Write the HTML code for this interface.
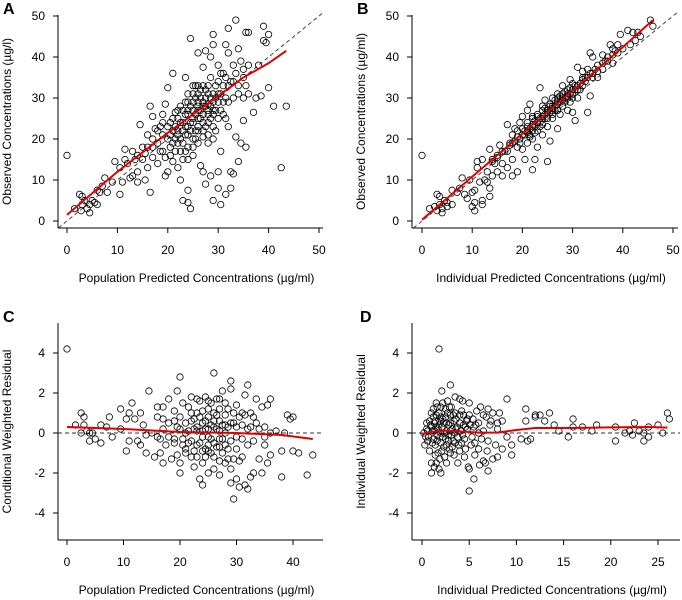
<!DOCTYPE html>
<html><head><meta charset="utf-8"><style>
html,body{margin:0;padding:0;background:#fff;}
svg{display:block;font-family:"Liberation Sans",Arial,sans-serif;}
</style></head><body>
<svg id="chart" width="682" height="600" viewBox="0 0 682 600" xmlns="http://www.w3.org/2000/svg"></svg>
<script>
// ---- Data ----
const aPoints=[[0,16],[1.5,3],[2.5,6.5],[3,6],[3,4],[2.8,2.5],[3.5,5],[4,3],[4.5,2],[4.5,4],[5,5],[5.5,4.5],[6,4],[6,7.5],[6.5,7],[7,8.5],[7.5,10.5],[8,7],[9,9.5],[9.5,14.5],[10.5,6.5],[10.5,13],[11,9.5],[11.5,15],[11.5,17.5],[12,14],[12.5,10.5],[13,17],[13,11],[13.5,15],[14,12],[14,9.5],[14.5,23.5],[15,18],[15.5,10],[15.5,16.5],[16,21],[16,13],[16.5,7],[16.5,28],[17,20],[17,25.5],[17,15.5],[17.5,22.5],[18,19],[18,14],[18.5,23],[19,26],[19,17],[19.5,11],[19.5,15.5],[19.5,28.5],[20,32.5],[20,20],[20,12],[20.5,24],[20.5,18],[21,36],[21,22],[21,14.5],[21.5,26.5],[21.5,20],[22,25],[22,19],[22,13],[22.5,10],[22.5,28],[23,22],[23,15],[23,5],[23.5,35],[23.5,26],[23.5,21],[24,7.5],[24,4.5],[24,18],[24,29],[24.5,3],[24.5,44.5],[24.5,24],[25,31],[25,27],[25,20],[25,16],[25.5,33],[25.5,22],[26,29],[26,25],[26,41],[26,28],[26.5,13.5],[26.5,30],[27,37.5],[27,12],[27,20.5],[27,26],[27.5,41.5],[27.5,9],[27.5,32],[28,24],[28,28.5],[28,19],[28.5,11],[28.5,40],[28.5,30],[29,45.5],[29,43],[29,5],[29,26],[29.5,33],[29.5,22],[30,38],[30,12],[30,8],[30,31],[30.5,4],[30.5,27],[30.5,17],[31,36],[31,29],[31.5,43],[31.5,6.5],[31.5,25],[32,47],[32,41],[32,23],[32.5,34],[32.5,12],[32.5,8],[33,38],[33,11.5],[33,30],[33.5,49],[33.5,20.5],[34,42],[34,14.5],[34,31],[34.5,39],[34.5,19],[35,24.5],[35,35],[35,30],[35.5,18],[35.5,46],[35.5,33],[36,38],[36,46],[36,31],[37,26.5],[37.5,30],[38,38],[38.5,30.5],[39,47.5],[39,44],[39.5,43.5],[40,32.5],[40,45.5],[41,28],[42.5,13],[43.5,28],[24,27],[25,25],[26,27],[27,28],[28,27],[29,29],[24,23],[26,22],[22,22],[23,24],
[20,23],[20.5,21],[21,25],[21,19],[21.5,23],[22,21],[22,27],[22.5,24],[22.5,20],[23,27],[23,19],[23.5,23],[23.5,29],[24,26],[24,21],[24,31],[24.5,28],[24.5,22],[25,29],[25,24],[25,33],[25.5,26],[25.5,30],[25.5,20],[26,31],[26,23],[26,33],[26.5,27],[26.5,25],[26.5,32],[27,29],[27,33],[27,24],[27.5,28],[27.5,30],[27.5,23],[28,31],[28,26],[28,33],[28.5,28],[28.5,25],[28.5,35],[29,31],[29,27],[29,23],[29.5,30],[29.5,27],[30,29],[30,25],[30,34],[30.5,31],[30.5,36],[31,26],[31,33],[31.5,30],[31.5,35],[32,29],[32,33],[33,34],[33.5,36],[34,33],[35,37],[19,21],[19,24],[18,22],[17,18],[18.5,17],[16,18],[15,15],[14,16],[20.5,16],[21.5,17],[22.5,17],[23.5,17],[26,19],[27,22],[28,21],[29,20],[25,18],[24,15]];
const aTrend=[[0,1.5],[10,12],[20,21.5],[25,26],[30,30.5],[35,35],[40,38.5],[43.5,41.5]];
const bPoints=[[0,16],[1.5,3],[2.5,3.5],[3,6.5],[3,2.5],[3.5,6],[3.5,4],[4,2],[4,3],[4.5,5],[5,4.5],[5,3.5],[6,7.5],[6,4],[7,7],[7.5,8],[8,10.5],[8.5,6.5],[9,5.5],[9.5,10],[10,7],[10,3.5],[10.5,4.5],[10.5,2.5],[10.5,7.5],[11,13],[11,14.5],[11.5,9.5],[12,15],[12,5],[12,4],[12.5,10],[13,9.5],[13,12],[13.5,6],[13.5,8],[13.5,17.5],[14,15],[14,11],[14.5,14],[15,16],[15,12],[15.5,18.5],[16,14],[16,11],[16.5,17],[17,23.5],[17,13],[17.5,19],[18,15],[18,21],[18,11],[18.5,22.5],[19,18],[19,12],[19.5,20],[19.5,24],[20,17.5],[20,25.5],[20.5,21],[20.5,15],[21,27],[21,23],[21,19],[21.5,28.5],[21.5,21],[22,12.5],[22,25],[22,20],[22.5,23],[22.5,15],[23,26],[23,22],[23,18],[23.5,32.5],[23.5,24],[24,21],[24,27],[24.5,25],[24.5,29.5],[25,14.5],[25,23],[25,26.5],[25.5,19.5],[25.5,28],[26,25],[26,30],[26.5,27],[27,22.5],[27,29],[27,31],[27.5,26],[28,33],[28,28],[28.5,30],[29,27],[29,32],[29.5,34.5],[29.5,29],[30,31],[30,26.5],[30.5,24.5],[30.5,33],[31,30],[31,37.5],[31.5,32],[32,35],[32,36.5],[32.5,34],[33,26.5],[33,37],[33.5,41],[33.5,30.5],[34,40],[34,36],[35,38],[35,35],[36,37],[36,40.5],[37,39],[37.5,43],[38,42],[38,38.5],[38.5,41.5],[39,43],[39.5,45.5],[40,42],[41,46.5],[41.5,43],[42,46],[42.5,44],[43,46],[43.5,45],[45.5,49],[46,47.5],[20,21],[21,22],[22,23],[24,25],[26,28],[27,27],[28,30],[29,30],[30,32],[25,27],[23,24],[26,27],
[17,17],[17.5,18.5],[18,19],[18.5,19.5],[19,20.5],[19.5,19],[20,21],[20,22.5],[20.5,22],[21,21.5],[21,24],[21.5,22.5],[21.5,20.5],[22,23.5],[22,22],[22.5,24.5],[22.5,21.5],[23,24],[23,25.5],[23.5,25],[23.5,23],[24,25.5],[24,23.5],[24.5,26],[24.5,27.5],[25,27],[25,25],[25.5,26.5],[25.5,28.5],[26,27.5],[26,26],[26.5,28],[26.5,29.5],[27,28.5],[27,27],[27.5,29],[27.5,30.5],[28,29.5],[28,31],[28.5,29],[28.5,31.5],[29,30.5],[29,31],[29.5,31],[29.5,32.5],[30,30],[30,33.5],[30.5,32],[31,33],[31,32],[31.5,33.5],[32,33],[32,34.5],[32.5,35],[33,35],[33.5,36],[34,35],[34.5,37],[35,36.5],[36,38.5],[36.5,39],[37,40],[38,40.5],[39,41],[16,17],[15,15.5],[14,14.5],[19,22],[22,25.5],[24,28],[27,30]];
const bTrend=[[0,0.3],[10,10.8],[20,21.3],[30,31.8],[40,42.4],[46,49]];
const cPoints=[[0,4.2],[1.5,0.4],[2.5,1],[2.5,0],[3,0.8],[3,0.4],[3.5,0.1],[4,-0.4],[4,0],[4.5,0],[5,-0.3],[6,0.4],[6,-0.5],[7,0.3],[7.5,0.8],[8,-0.2],[9.5,0.2],[9.5,1.2],[10.5,0.7],[10.5,-0.9],[11,1],[11,-0.4],[11.5,1.5],[12,0.7],[12.5,-0.4],[13,1],[13,-0.6],[13.5,0.4],[14,-1],[14,-0.1],[14.5,2.1],[15,0],[15.5,-1.2],[16,0.8],[16,1.3],[16.5,-1],[16.5,-0.3],[17,1.3],[17,-1.5],[17,0.2],[17.5,-0.6],[18,1.7],[18,0.5],[18.5,-1.3],[19,1.1],[19,-0.5],[19.5,2.1],[19.5,-1.1],[19.5,0.3],[20,2.8],[20,-2],[20,-1.5],[20,0.8],[20.5,-0.3],[20.5,1.5],[21,0],[21,-0.8],[21.5,1.3],[21.5,-0.5],[22,0.6],[22,1.8],[22,-1.2],[22.5,0.2],[22.5,-1.7],[23,1],[23,-0.6],[23.5,1.6],[23.5,-2.3],[24,0.1],[24,-1.5],[24,-2.6],[24.5,1.8],[24.5,-0.8],[24.5,0.6],[25,-2],[25,1.2],[25,-0.2],[25.5,0.4],[25.5,-1],[26,3],[26,1],[26,-0.5],[26.5,0.2],[26.5,1.7],[27,-1.4],[27,-2.1],[27,0.6],[27.5,2.1],[27.5,-0.3],[28,1.5],[28,-1.5],[28,0.9],[28.5,0.3],[28.5,-0.8],[29,2.6],[29,2.2],[29,-2.5],[29.5,-3.3],[29.5,-1.3],[29.5,0.5],[30,1.4],[30,-0.2],[30,-2.3],[30.5,-2.7],[30.5,0.8],[31,1],[31,-1.2],[31.5,1.9],[31.5,-2.6],[32,2.4],[32,-2.8],[32,0.2],[32.5,-2.2],[32.5,1],[33,-0.4],[33,-2],[33.5,1.7],[33.5,0.5],[34,-1.3],[34.5,1.3],[34.5,-2],[35,0.3],[35,-0.6],[35.5,-1.5],[35.5,1.4],[36,0],[36,1.7],[36,-1.1],[37,0.1],[38,-0.9],[38,-2.2],[38.5,0],[39,0.9],[39.5,0.7],[40,0.8],[40,-0.9],[41,-1],[42.5,-2.1],[43.5,-1.1],[23,0.3],[24,0.5],[25,0.2],[26,0.6],[27,0.1],[28,0.4],[25,-0.6],[27,-0.7],[24,-0.9],
[20,0.2],[20.5,-0.6],[21,0.5],[21,-1],[21.5,0.1],[22,-0.4],[22,1],[22.5,0.7],[22.5,-0.9],[23,0.1],[23,-1.2],[23.5,0.8],[23.5,-0.5],[24,1.1],[24,-0.2],[24.5,-1.2],[24.5,0.2],[25,0.8],[25,-0.9],[25.5,1.5],[25.5,-0.3],[26,0.3],[26,-1.2],[26.5,-0.7],[26.5,0.9],[27,1.2],[27,-0.3],[27.5,0.4],[27.5,-1],[28,0],[28,-0.6],[28.5,1.2],[28.5,-1.3],[29,0.5],[29,-0.4],[29.5,1],[30,0.3],[30,-0.8],[30.5,-1.4],[31,0.4],[31,-0.3],[31.5,0.9],[32,-0.6],[32.5,0.3],[33,0.8],[34,0.2],[35,-0.2],[19,0.6],[18,-0.2],[17,0.7],[16,-0.2],[19,-0.3],[23,1.7],[25,1.6],[27,1.7],[29,-1.8],[26,-1.8]];
const cTrend=[[0,0.3],[10,0.2],[20,0.05],[30,0],[38,-0.1],[43.5,-0.3]];
const dPoints=[[1.8,4.2],[3,2.4],[2.1,2.1],[3.5,1.8],[4,1.7],[4.3,1.6],[1.5,1.5],[2.7,1.6],[5,1.5],[0.5,0.5],[0.3,-0.6],[0.8,-0.9],[1,-1.5],[1,-2],[1.3,-1.7],[1.5,-1.5],[1.8,-1.8],[2,-2],[1.2,0.8],[1.5,0.3],[1.8,1],[2,0],[2,-0.5],[2.2,0.7],[2.5,1.2],[2.5,-0.3],[2.8,0.4],[3,-1],[3,0.9],[3.2,0.2],[3.5,-0.5],[3.5,1],[3.8,-1.5],[4,0.5],[4,-0.9],[4.2,1.1],[4.5,-0.3],[4.5,-1.2],[4.8,0.2],[5,-1.8],[5,0.9],[5,-2.9],[5.2,-0.6],[5.5,-2.3],[5.5,0.3],[5.8,1.1],[6,-0.8],[6,0.5],[6.2,1.3],[6.5,-1.4],[6.5,0.1],[6.8,0.8],[7,-1.9],[7,-0.4],[7,1.2],[7.2,0.4],[7.5,-1.3],[7.5,1],[7.8,-0.6],[8,0.2],[8,-1.2],[8.2,1],[8.5,-0.8],[8.5,0.6],[9,1.7],[9,-0.2],[9.5,-1.1],[9.5,-0.6],[10.5,-0.3],[11,1.2],[11,0.6],[11.5,-0.3],[11.2,-0.4],[12,0.8],[12,0.9],[12.5,0.9],[13,0.6],[13.5,1],[14,0.4],[14.5,0.1],[15.5,-0.2],[16,0.7],[16,0.3],[17,0.3],[18,0.1],[18.5,0.4],[20.5,0.3],[20.5,-0.4],[21.5,0],[22,0.1],[22.5,0.5],[22.3,-0.1],[23,0.1],[23.5,-0.4],[23.5,0],[24,0.3],[24,-0.2],[25,0.4],[25.5,0],[26,1],[26.2,0.7],[0.2,0],[0.5,0.2],[0.7,-0.2],[1,0.3],[1.2,-0.3],[1.4,0.6],[1.6,-0.1],[1.8,0.4],[2.3,-0.7],[2.6,0.1],[3.3,-0.4],[3.7,0.3],[4.3,-0.1],[4.7,0.6],[5.3,-0.2],[5.7,0.4],[6.3,-0.3],[1,1],[1.7,-1],[2.4,-1.2],[2.9,-0.8],[3.4,0.6],[4.1,0.1],[0.8,0.6],[1.3,0.1],[2.1,0.3],[0.6,-0.4],[3.9,-0.6],[4.4,0.9],[6.7,-1.5],[5.6,-1.1],[6.1,-1.6],[4.9,-1.7],[1.1,0.1],[1.9,0.6],[2.6,0.5],[3.1,-0.1],[2.2,-0.2],[3.6,0.2],[1.4,-0.6],[2.8,-0.4],[4.6,0.3],
[0.6,0.1],[0.9,0.4],[1.1,-0.5],[1.2,1.2],[1.3,0.5],[1.5,0.9],[1.6,-0.4],[1.7,0.2],[1.9,-0.2],[2,0.8],[2,1.3],[2.1,-0.9],[2.3,0.5],[2.4,0],[2.5,0.8],[2.6,-0.6],[2.7,1],[2.8,-0.1],[3,0.5],[3,0.1],[3.1,1.3],[3.2,-0.7],[3.3,0.9],[3.5,0],[3.6,0.7],[3.8,-0.2],[4,0.9],[4.2,-0.5],[4.4,0.4],[4.6,-0.8],[4.8,0.7],[5.1,0.4],[5.4,0.7],[5.6,-0.5],[6,0],[0.4,-0.2],[1.6,1.3],[2.2,1.5],[2.9,1.3],[3.4,-1.1],[1.9,-1.3],[1.4,-1.1],[2.6,-1.5],[6.5,0.9],[7.3,0.6],[8,0.5],[6.9,-0.9]];
const dTrend=[[0,-0.05],[1,0.05],[2.5,0.12],[4,0.08],[6,0.02],[8,0.02],[10,0.15],[12,0.25],[16,0.25],[20,0.28],[24,0.3],[26,0.27]];
const abTicks=[0,10,20,30,40,50];
const obsTicks=[0,10,20,30,40,50];
const cTicks=[0,10,20,30,40];
const dTicks=[0,5,10,15,20,25];
const resTicks=[-4,-2,0,2,4];

const NS="http://www.w3.org/2000/svg";
const svg=document.getElementById('chart');
function mk(tag,attrs,parent){const e=document.createElementNS(NS,tag);for(const k in attrs)e.setAttribute(k,attrs[k]);(parent||svg).appendChild(e);return e;}

function panel(p){
  const g=mk('g',{});
  
  
  const sx=v=>p.x0+(v-p.xv0)*p.xs;
  const sy=v=>p.y0-(v-p.yv0)*p.ys;
  const ax=mk('line',{x1:p.L,y1:p.T,x2:p.L,y2:p.B,stroke:'#000','stroke-width':1},g);
  
  const bx=mk('line',{x1:p.L,y1:p.B,x2:p.R,y2:p.B,stroke:'#000','stroke-width':1},g);
  
  p.xticks.forEach(t=>{
    const X=sx(t);
    mk('line',{x1:X,y1:p.B,x2:X,y2:p.B+5,stroke:'#000'},g);
    const tx=mk('text',{x:X,y:p.B+26,'text-anchor':'middle','font-size':12,fill:'#000'},g);
    
    tx.textContent=t;
  });
  p.yticks.forEach(t=>{
    const Y=sy(t);
    mk('line',{x1:p.L-5,y1:Y,x2:p.L,y2:Y,stroke:'#000'},g);
    const tx=mk('text',{x:p.L-13,y:Y+4,'text-anchor':'end','font-size':12,fill:'#000'},g);
    
    tx.textContent=t;
  });
  let rl;
  if(p.diag){
    const lo=Math.max((p.L-p.x0)/p.xs+p.xv0,(p.y0-p.B)/p.ys+p.yv0);
    const hi=Math.min((p.R+2-p.x0)/p.xs+p.xv0,(p.y0-p.T+3)/p.ys+p.yv0);
    rl=mk('line',{x1:sx(lo),y1:sy(lo),x2:sx(hi),y2:sy(hi),stroke:'#333','stroke-width':0.9,'stroke-dasharray':'4,3'},g);
  } else {
    rl=mk('line',{x1:p.L,y1:sy(0),x2:p.R,y2:sy(0),stroke:'#333','stroke-width':0.9,'stroke-dasharray':'4,3'},g);
  }
  
  p.points.forEach(d=>{
    const c=mk('circle',{cx:sx(d[0]),cy:sy(d[1]),r:3.2,fill:'none',stroke:'#000','stroke-width':0.8},g);
    
    
  });
  const tr=mk('polyline',{points:p.trend.map(d=>sx(d[0])+','+sy(d[1])).join(' '),fill:'none',stroke:'#e00000','stroke-width':2},g);
  
  const xt=mk('text',{x:(p.L+p.R)/2+6,y:p.B+54,'text-anchor':'middle','font-size':12,fill:'#000'},g);
  
  xt.textContent=p.xtitle;
  const yc=(p.T+p.B)/2;
  const yt=mk('text',{x:p.ytx,y:yc,'text-anchor':'middle','font-size':12,fill:'#000',transform:`rotate(-90 ${p.ytx} ${yc})`},g);
  
  yt.textContent=p.ytitle;
  const lt=mk('text',{x:p.lx,y:p.ly,'font-size':16,'font-weight':'bold',fill:'#000'},g);
  
  lt.textContent=p.letter;
}

panel({name:'panel-a',letter:'A',lx:3,ly:14,L:58,R:323,T:15,B:228,x0:67,xv0:0,xs:5.04,y0:221,yv0:0,ys:4.1,
  xticks:abTicks,yticks:obsTicks,points:aPoints,trend:aTrend,diag:true,
  xtitle:'Population Predicted Concentrations (µg/ml)',ytitle:'Observed Concentrations (µg/l)',ytx:11});
panel({name:'panel-b',letter:'B',lx:357,ly:14,L:412,R:678,T:15,B:228,x0:422,xv0:0,xs:5.02,y0:221,yv0:0,ys:4.1,
  xticks:abTicks,yticks:obsTicks,points:bPoints,trend:bTrend,diag:true,
  xtitle:'Individual Predicted Concentrations (µg/ml)',ytitle:'Observed Concentrations (µg/ml)',ytx:365});
panel({name:'panel-c',letter:'C',lx:3,ly:322,L:58,R:323,T:323,B:540,x0:67,xv0:0,xs:5.65,y0:433,yv0:0,ys:20,
  xticks:cTicks,yticks:resTicks,points:cPoints,trend:cTrend,diag:false,
  xtitle:'Population Predicted Concentrations (µg/ml)',ytitle:'Conditional Weighted Residual',ytx:11});
panel({name:'panel-d',letter:'D',lx:360,ly:322,L:412,R:680,T:323,B:540,x0:422,xv0:0,xs:9.44,y0:433,yv0:0,ys:20,
  xticks:dTicks,yticks:resTicks,points:dPoints,trend:dTrend,diag:false,
  xtitle:'Individual Predicted Concentrations (µg/ml)',ytitle:'Individual Weighted Residual',ytx:365});
</script>
</body></html>
